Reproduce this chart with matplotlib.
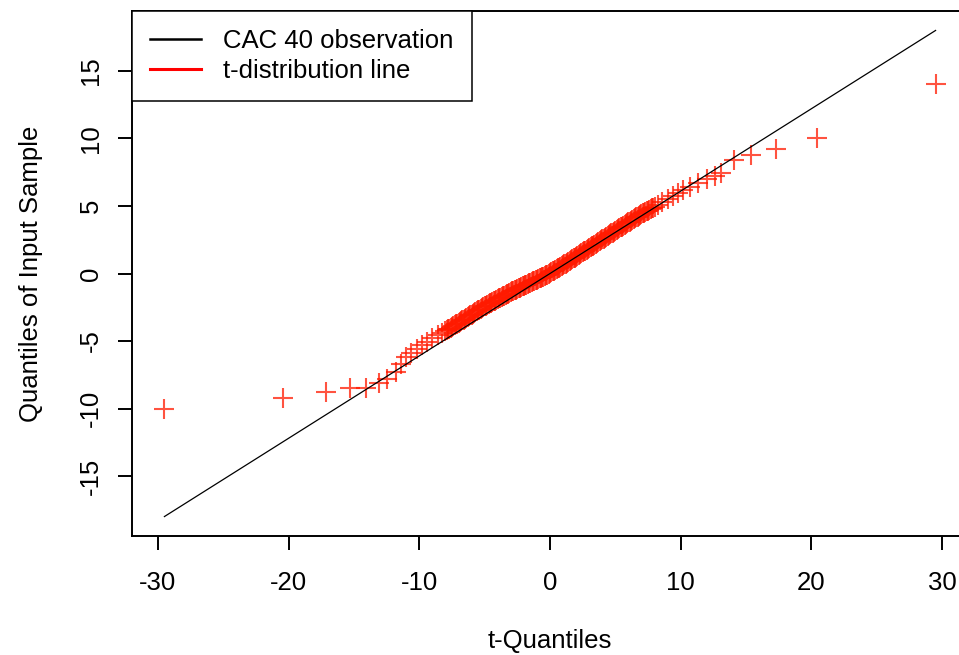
import matplotlib
matplotlib.use("Agg")
import matplotlib.pyplot as plt
from matplotlib.lines import Line2D

plt.rcParams['font.family'] = ['Liberation Sans', 'DejaVu Sans']

# t-quantiles (x) and sample quantiles (y)
tail_lo_x = [-29.5, -20.4, -17.1, -15.3, -14.1, -13.1, -12.5, -11.8, -11.4]
tail_lo_y = [-10.0, -9.2, -8.8, -8.5, -8.45, -8.1, -7.85, -7.3, -6.7]

outer_lo_x = [-11.0, -10.6, -10.2, -9.8, -9.4, -9.0, -8.6, -8.3]
outer_lo_y = [-6.2, -5.9, -5.6, -5.33, -5.07, -4.8, -4.57, -4.42]

# dense middle part, x from -8.0 to 8.0
body_x = [-8.0, -7.9, -7.8, -7.7, -7.6, -7.5, -7.4, -7.3, -7.2, -7.1,
          -7.0, -6.9, -6.8, -6.7, -6.6, -6.5, -6.4, -6.3, -6.2, -6.1,
          -6.0, -5.9, -5.8, -5.7, -5.6, -5.5, -5.4, -5.3, -5.2, -5.1,
          -5.0, -4.9, -4.8, -4.7, -4.6, -4.5, -4.4, -4.3, -4.2, -4.1,
          -4.0, -3.9, -3.8, -3.7, -3.6, -3.5, -3.4, -3.3, -3.2, -3.1,
          -3.0, -2.9, -2.8, -2.7, -2.6, -2.5, -2.4, -2.3, -2.2, -2.1,
          -2.0, -1.9, -1.8, -1.7, -1.6, -1.5, -1.4, -1.3, -1.2, -1.1,
          -1.0, -0.9, -0.8, -0.7, -0.6, -0.5, -0.4, -0.3, -0.2, -0.1,
          0.0, 0.1, 0.2, 0.3, 0.4, 0.5, 0.6, 0.7, 0.8, 0.9,
          1.0, 1.1, 1.2, 1.3, 1.4, 1.5, 1.6, 1.7, 1.8, 1.9,
          2.0, 2.1, 2.2, 2.3, 2.4, 2.5, 2.6, 2.7, 2.8, 2.9,
          3.0, 3.1, 3.2, 3.3, 3.4, 3.5, 3.6, 3.7, 3.8, 3.9,
          4.0, 4.1, 4.2, 4.3, 4.4, 4.5, 4.6, 4.7, 4.8, 4.9,
          5.0, 5.1, 5.2, 5.3, 5.4, 5.5, 5.6, 5.7, 5.8, 5.9,
          6.0, 6.1, 6.2, 6.3, 6.4, 6.5, 6.6, 6.7, 6.8, 6.9,
          7.0, 7.1, 7.2, 7.3, 7.4, 7.5, 7.6, 7.7, 7.8, 7.9, 8.0]
body_y = [-4.26, -4.20, -4.14, -4.08, -4.02, -3.96, -3.89, -3.83, -3.77, -3.71,
          -3.65, -3.59, -3.53, -3.47, -3.41, -3.35, -3.28, -3.22, -3.16, -3.10,
          -3.04, -2.98, -2.92, -2.86, -2.80, -2.74, -2.67, -2.61, -2.55, -2.49,
          -2.43, -2.38, -2.33, -2.28, -2.22, -2.17, -2.11, -2.06, -2.01, -1.95,
          -1.90, -1.85, -1.80, -1.75, -1.70, -1.64, -1.59, -1.54, -1.49, -1.43,
          -1.38, -1.33, -1.29, -1.24, -1.20, -1.15, -1.10, -1.05, -1.01, -0.96,
          -0.92, -0.87, -0.83, -0.78, -0.74, -0.69, -0.64, -0.59, -0.55, -0.50,
          -0.46, -0.41, -0.37, -0.32, -0.28, -0.23, -0.18, -0.13, -0.08, -0.03,
          0.03, 0.09, 0.15, 0.21, 0.26, 0.32, 0.38, 0.43, 0.49, 0.55,
          0.61, 0.67, 0.74, 0.80, 0.86, 0.93, 0.99, 1.05, 1.12, 1.18,
          1.24, 1.31, 1.37, 1.43, 1.49, 1.57, 1.63, 1.69, 1.76, 1.82,
          1.88, 1.94, 2.01, 2.07, 2.13, 2.21, 2.27, 2.33, 2.39, 2.46,
          2.52, 2.58, 2.65, 2.71, 2.77, 2.84, 2.91, 2.97, 3.03, 3.09,
          3.16, 3.22, 3.28, 3.34, 3.41, 3.48, 3.54, 3.60, 3.66, 3.73,
          3.79, 3.85, 3.91, 3.97, 4.03, 4.10, 4.16, 4.22, 4.28, 4.34,
          4.40, 4.45, 4.50, 4.55, 4.60, 4.66, 4.72, 4.77, 4.82, 4.88, 4.93]

outer_hi_x = [8.3, 8.6, 9.0, 9.4, 9.8, 10.2]
outer_hi_y = [5.10, 5.30, 5.52, 5.74, 5.95, 6.15]

tail_hi_x = [10.7, 11.3, 12.0, 12.6, 13.1, 14.1, 15.4, 17.3, 20.4, 29.5]
tail_hi_y = [6.4, 6.7, 7.0, 7.2, 7.45, 8.4, 8.8, 9.2, 10.0, 14.0]

t_quantiles = tail_lo_x + outer_lo_x + body_x + outer_hi_x + tail_hi_x
sample_quantiles = tail_lo_y + outer_lo_y + body_y + outer_hi_y + tail_hi_y

# reference line end points
ref_x = [-29.5, 29.5]
ref_y = [-18.0, 18.0]

x_ticks = [-30, -20, -10, 0, 10, 20, 30]
y_ticks = [-15, -10, -5, 0, 5, 10, 15]

fs = 18.5
fig = plt.figure(figsize=(9.59, 6.55), dpi=100)
# plot region runs a little past the right edge of the image, as in the original
ax = fig.add_axes([132 / 959, 119 / 655, 836 / 959, 525 / 655])

ax.plot(t_quantiles, sample_quantiles, linestyle='none', marker='+',
        markersize=14, markeredgewidth=1.5, color='#ff1a00', alpha=0.75)
ax.plot(ref_x, ref_y, color='black', linewidth=0.9)

ax.set_xlim(-31.98, 31.98)
ax.set_ylim(-19.44, 19.44)
ax.set_xticks(x_ticks)
ax.set_yticks(y_ticks)
ax.set_xticklabels([str(v) for v in x_ticks])
ax.set_yticklabels([str(v) for v in y_ticks], rotation=90, va='center')

for s in ax.spines.values():
    s.set_linewidth(1.4)
ax.tick_params(direction='out', length=10, width=1.4, labelsize=fs)
ax.tick_params(axis='x', pad=15)
ax.tick_params(axis='y', pad=11)

ax.set_xlabel('t-Quantiles', fontsize=fs, labelpad=25)
ax.set_ylabel('Quantiles of Input Sample', fontsize=fs, labelpad=26)

handles = [Line2D([], [], color='black', linewidth=1.8),
           Line2D([], [], color='red', linewidth=2.2)]
leg = ax.legend(handles, ['CAC 40 observation', 't-distribution line'],
                loc='upper left', bbox_to_anchor=(0, 1), borderaxespad=0,
                fontsize=fs, fancybox=False, frameon=True, borderpad=0.7,
                handlelength=2.0, handletextpad=0.85, labelspacing=0.22)
leg.get_frame().set_edgecolor('black')
leg.get_frame().set_linewidth(1.1)
leg.get_frame().set_alpha(1)

fig.savefig('out.png', dpi=100)
